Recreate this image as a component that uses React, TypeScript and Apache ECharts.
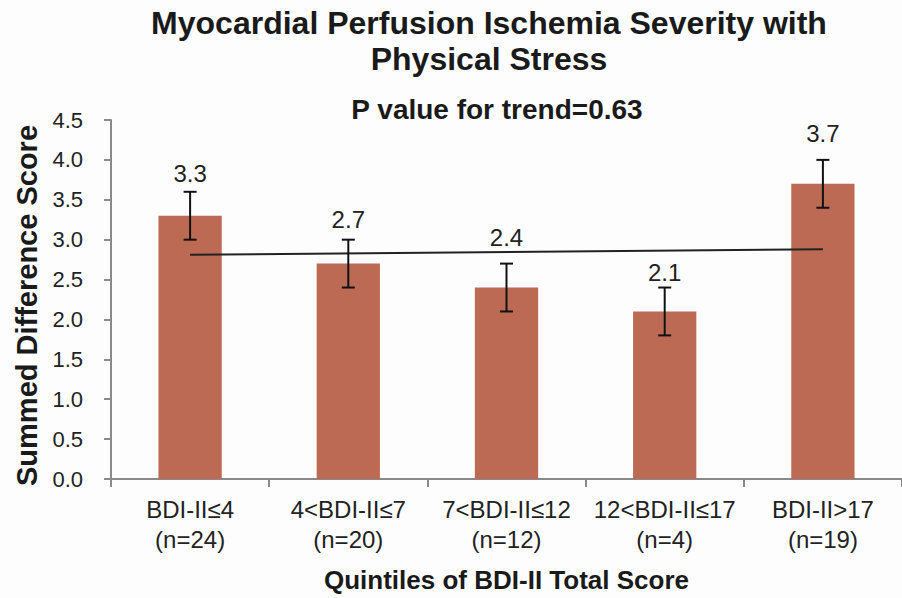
import React, { useEffect, useRef } from "react";
import * as echarts from "echarts";

const categories = [
  "BDI-II≤4\n(n=24)",
  "4<BDI-II≤7\n(n=20)",
  "7<BDI-II≤12\n(n=12)",
  "12<BDI-II≤17\n(n=4)",
  "BDI-II>17\n(n=19)",
];
const means = [3.3, 2.7, 2.4, 2.1, 3.7];
const errLow = [3.0, 2.4, 2.1, 1.8, 3.4];
const errHigh = [3.6, 3.0, 2.7, 2.4, 4.0];
const trendLine = [2.81, null, null, null, 2.88];
const yMin = 0;
const yMax = 4.5;
const yStep = 0.5;

const titleText = "Myocardial Perfusion Ischemia Severity with\nPhysical Stress";
const subtitleText = "P value for trend=0.63";
const yName = "Summed Difference Score";
const xName = "Quintiles of BDI-II Total Score";

const FONT = "'Liberation Sans', Arial, sans-serif";
const labelDistance = [30, 32, 38, 27, 38];

export default function App() {
  const ref = useRef<HTMLDivElement>(null);
  useEffect(() => {
    if (!ref.current) return;
    const chart = echarts.init(ref.current, undefined, { renderer: "svg" });
    chart.setOption({
      animation: false,
      backgroundColor: "#fdfdfe",
      textStyle: { fontFamily: FONT },
      title: [
        {
          text: titleText,
          left: 484,
          top: 0,
          textAlign: "center",
          textStyle: { fontFamily: FONT, fontSize: 32, fontWeight: "bold", color: "#1a1a1a", lineHeight: 36 },
        },
        {
          text: subtitleText,
          left: 492,
          top: 88,
          textAlign: "center",
          textStyle: { fontFamily: FONT, fontSize: 28, fontWeight: "bold", color: "#1a1a1a", lineHeight: 32 },
        },
      ],
      grid: { left: 111, top: 120, width: 797, bottom: 116 },
      xAxis: {
        type: "category",
        data: categories,
        name: xName,
        nameLocation: "middle",
        nameGap: 88,
        nameTextStyle: { fontFamily: FONT, fontSize: 26, fontWeight: "bold", color: "#1a1a1a" },
        axisLine: { lineStyle: { color: "#8a8a8a", width: 2 } },
        axisTick: { show: true, length: 8, lineStyle: { color: "#8a8a8a", width: 2 } },
        axisLabel: { fontFamily: FONT, fontSize: 24, color: "#222", lineHeight: 30, margin: 15, interval: 0 },
      },
      yAxis: {
        type: "value",
        min: yMin,
        max: yMax,
        interval: yStep,
        name: yName,
        nameLocation: "middle",
        nameRotate: 90,
        nameGap: 70,
        nameTextStyle: { fontFamily: FONT, fontSize: 29, fontWeight: "bold", color: "#1a1a1a", padding: [0, 0, 0, -12] },
        axisLine: { show: true, lineStyle: { color: "#8a8a8a", width: 2 } },
        axisTick: { show: true, length: 7, lineStyle: { color: "#8a8a8a", width: 2 } },
        axisLabel: { fontFamily: FONT, fontSize: 22, color: "#222", margin: 28, formatter: (v: number) => v.toFixed(1) },
        splitLine: { show: false },
      },
      series: [
        {
          type: "bar",
          data: means.map((v, i) => ({
            value: v,
            label: { distance: labelDistance[i] },
          })),
          barWidth: "40%",
          itemStyle: { color: "#BD6A54" },
          label: {
            show: true,
            position: "top",
            fontFamily: FONT,
            fontSize: 24,
            color: "#222",
            formatter: (p: any) => Number(p.value).toFixed(1),
          },
          z: 2,
        },
        {
          type: "line",
          data: trendLine,
          connectNulls: true,
          symbol: "none",
          lineStyle: { color: "#222", width: 2 },
          z: 3,
        },
        {
          type: "custom",
          data: categories.map((_, i) => [i, errLow[i], errHigh[i]]),
          encode: { x: 0, y: [1, 2] },
          z: 4,
          renderItem: (params: any, api: any) => {
            const x = api.value(0);
            const lo = api.coord([x, api.value(1)]);
            const hi = api.coord([x, api.value(2)]);
            const hw = 6.5;
            const style = { stroke: "#111", lineWidth: 2 };
            return {
              type: "group",
              children: [
                { type: "line", shape: { x1: hi[0], y1: hi[1], x2: lo[0], y2: lo[1] }, style },
                { type: "line", shape: { x1: hi[0] - hw, y1: hi[1], x2: hi[0] + hw, y2: hi[1] }, style },
                { type: "line", shape: { x1: lo[0] - hw, y1: lo[1], x2: lo[0] + hw, y2: lo[1] }, style },
              ],
            };
          },
        },
      ],
    });
    return () => chart.dispose();
  }, []);
  return (
    <div
      ref={ref}
      style={{ position: "fixed", left: 0, top: 0, width: 902, height: 598 }}
    />
  );
}
